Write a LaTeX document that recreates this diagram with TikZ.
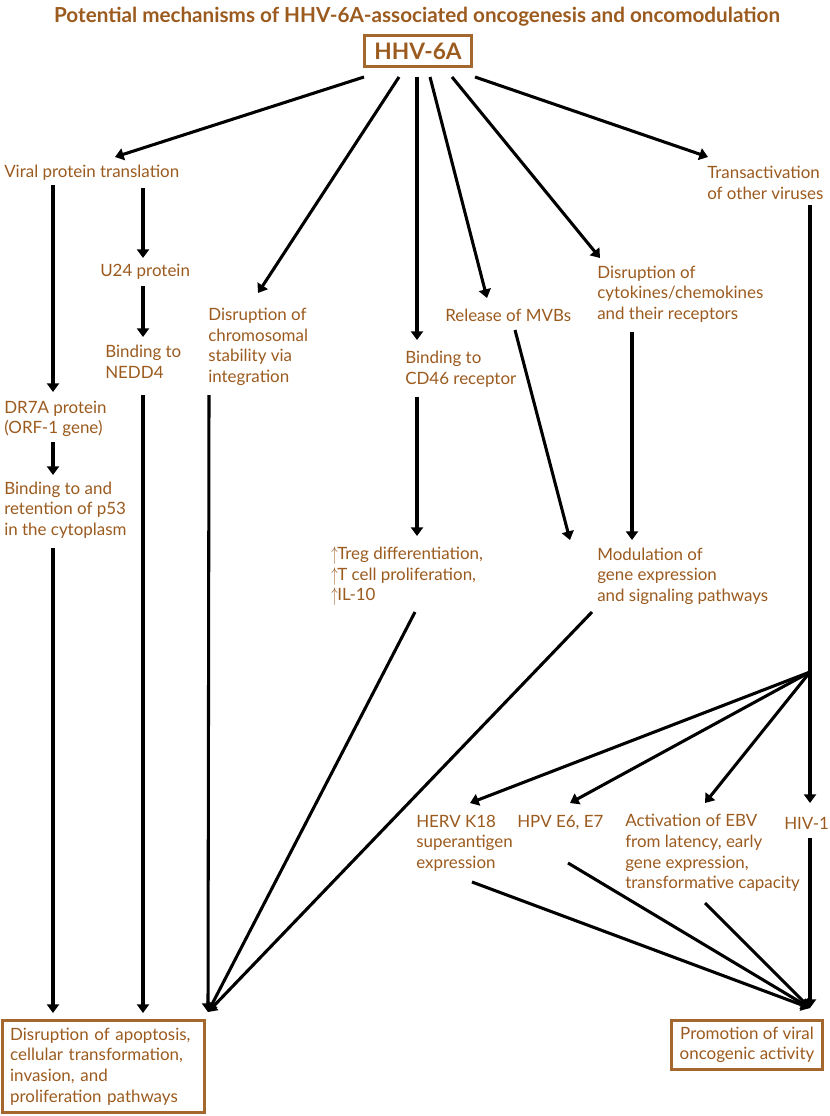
\documentclass[tikz,border=0pt]{standalone}
\usepackage{fontspec}
\setmainfont{Lato}
\usetikzlibrary{arrows.meta}
\definecolor{hbrown}{HTML}{9B5A1E}
\definecolor{boxbrown}{HTML}{A4682E}
\tikzset{
  lbl/.style={text=hbrown, font=\fontsize{12.7}{15.4}\selectfont, align=left, anchor=west, inner sep=0pt},
  brbox/.style={draw=boxbrown, line width=2.2pt, text=hbrown, font=\fontsize{12.7}{15.4}\selectfont},
  arr/.style={-{Triangle[length=6.5pt,width=9pt]}, line width=2.3pt, draw=black},
  ln/.style={-, line width=2.3pt, draw=black}
}
\newcommand{\up}{\raisebox{-0.5pt}{\scalebox{0.8}[1.25]{$\uparrow$}}\kern-0.3pt}
\begin{document}
\begin{tikzpicture}[x=0.75pt,y=-0.75pt]
\useasboundingbox (0,0) rectangle (829,1116);
\node[text=hbrown, font=\bfseries\fontsize{15.5}{17}\selectfont, inner sep=0pt] (title) at (417,17) {Potential mechanisms of HHV-6A-associated oncogenesis and oncomodulation};
\node[brbox, font=\bfseries\fontsize{17}{18}\selectfont, minimum width=80pt, minimum height=23pt, inner sep=0pt] (hhv) at (418,51) {HHV-6A};
% first level
\node[lbl] (vpt) at (4,173) {Viral protein translation};
\node[lbl] (trans) at (707,183) {Transactivation\\of other viruses};
\node[lbl] (u24) at (100,272) {U24 protein};
\node[lbl] (nedd4) at (105,362) {Binding to\\NEDD4};
\node[lbl] (chrom) at (208,347) {Disruption of\\chromosomal\\stability via\\integration};
\node[lbl] (mvb) at (445,315) {Release of MVBs};
\node[lbl] (cyto) at (597,294) {Disruption of\\cytokines/chemokines\\and their receptors};
\node[lbl] (cd46) at (405,369) {Binding to\\CD46 receptor};
\node[lbl] (dr7a) at (4,419) {DR7A protein\\(ORF-1 gene)};
\node[lbl] (p53) at (4,510) {Binding to and\\retention of p53\\in the cytoplasm};
\node[lbl] (treg) at (331,576) {\up Treg differentiation,\\\up T cell proliferation,\\\up IL-10};
\node[lbl] (modul) at (597,576) {Modulation of\\gene expression\\and signaling pathways};
% other viruses
\node[lbl] (herv) at (416,843) {HERV K18\\superantigen\\expression};
\node[lbl] (hpv) at (517,823) {HPV E6, E7};
\node[lbl] (ebv) at (625,853) {Activation of EBV\\from latency, early\\gene expression,\\transformative capacity};
\node[lbl] (hiv) at (784,823) {HIV-1};
% outcomes
\node[brbox, align=left, text width=140pt, inner xsep=5.5pt, minimum height=69pt] (box1) at (103.5,1066.5) {Disruption of apoptosis,\\cellular transformation,\\invasion, and\\proliferation pathways};
\node[brbox, align=center, minimum width=113pt, minimum height=37pt, inner sep=1pt] (box2) at (747,1045) {Promotion of viral\\oncogenic activity};
\coordinate (split) at (810,672);
% from HHV-6A
\draw [arr] ([shift={(-54,26)}]hhv.center) -- ([shift={(111,-16)}]vpt.west);
\draw [arr] ([shift={(-19,26)}]hhv.center) -- ([shift={(50,-54)}]chrom.west);
\draw [arr] ([shift={(-1,26)}]hhv.center) -- ([shift={(12,-29)}]cd46.west);
\draw [arr] ([shift={(12,26)}]hhv.center) -- ([shift={(42,-17)}]mvb.west);
\draw [arr] ([shift={(34,26)}]hhv.center) -- ([shift={(3,-36)}]cyto.west);
\draw [arr] ([shift={(57,26)}]hhv.center) -- ([shift={(1,-26)}]trans.west);
% left branch
\draw [arr] ([shift={(49,12)}]vpt.west) -- ([shift={(49,-27)}]dr7a.west);
\draw [arr] ([shift={(139,15)}]vpt.west) -- ([shift={(43,-14)}]u24.west);
\draw [arr] ([shift={(43,14)}]u24.west) -- ([shift={(38,-25)}]nedd4.west);
\draw [arr] ([shift={(49,23)}]dr7a.west) -- ([shift={(49,-35)}]p53.west);
\draw [arr] ([shift={(49,38)}]p53.west) -- ([shift={(-50.5,-53.5)}]box1.center);
\draw [arr] ([shift={(38,33)}]nedd4.west) -- ([shift={(39.5,-53.5)}]box1.center);
\draw [arr] ([shift={(1,48)}]chrom.west) -- ([shift={(104.5,-54.5)}]box1.center);
\draw [arr] ([shift={(84,36)}]treg.west) -- ([shift={(104.5,-54.5)}]box1.center);
\draw [arr] ([shift={(-5,36)}]modul.west) -- ([shift={(104.5,-54.5)}]box1.center);
% middle
\draw [arr] ([shift={(12,28)}]cd46.west) -- ([shift={(86,-40)}]treg.west);
\draw [arr] ([shift={(70,15)}]mvb.west) -- ([shift={(-27,-36)}]modul.west);
\draw [arr] ([shift={(35,38)}]cyto.west) -- ([shift={(35,-36)}]modul.west);
% right branch
\draw [arr] ([shift={(103,22)}]trans.west) -- ([shift={(26,-20)}]hiv.west);
\draw [arr] (split) -- ([shift={(54,-40)}]herv.west);
\draw [arr] (split) -- ([shift={(53,-20)}]hpv.west);
\draw [arr] (split) -- ([shift={(80,-50)}]ebv.west);
\draw [arr] ([shift={(56,39)}]herv.west) -- ([shift={(63,-37)}]box2.center);
\draw [arr] ([shift={(51,40)}]hpv.west) -- ([shift={(63,-37)}]box2.center);
\draw [arr] ([shift={(80,50)}]ebv.west) -- ([shift={(63,-37)}]box2.center);
\draw [arr] ([shift={(26,15)}]hiv.west) -- ([shift={(63,-37)}]box2.center);
\end{tikzpicture}
\end{document}
